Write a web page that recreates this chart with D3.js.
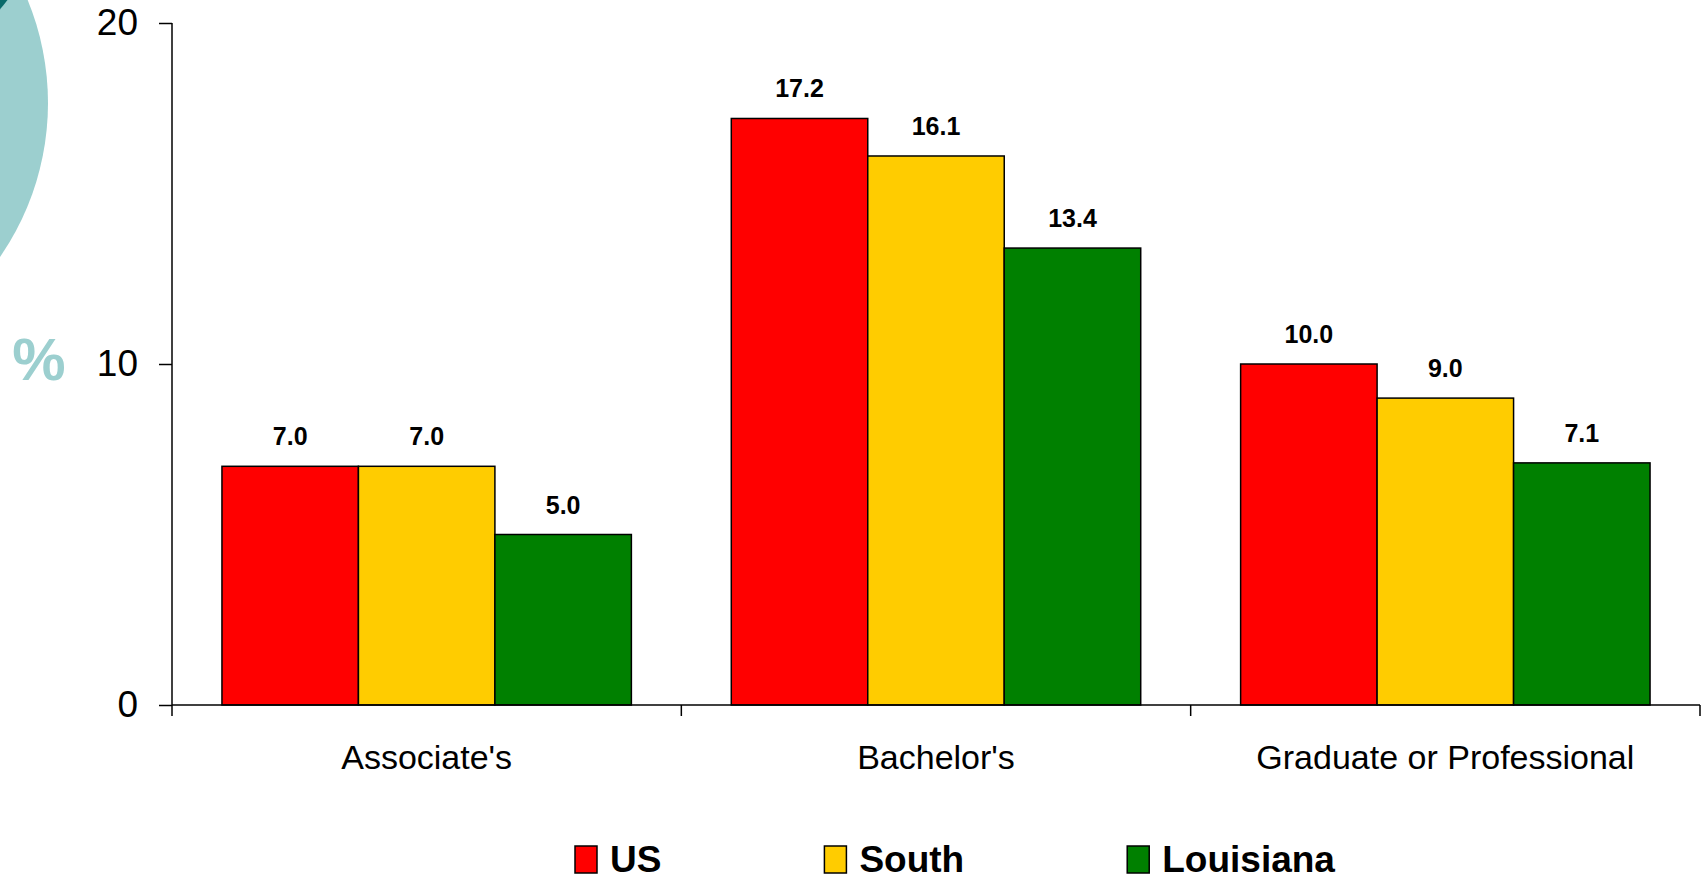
<!DOCTYPE html>
<html>
<head>
<meta charset="utf-8">
<script src="https://cdn.jsdelivr.net/npm/d3@7"></script>
<style>
  html, body { margin: 0; padding: 0; background: #ffffff; overflow: hidden; }
  svg { display: block; font-family: "Liberation Sans", Arial, sans-serif; }
</style>
</head>
<body>
<div id="chart-container"></div>
<script>
const categories = ["Associate's", "Bachelor's", "Graduate or Professional"];
const series = ["US", "South", "Louisiana"];
const usValues = [7.0, 17.2, 10.0];
const southValues = [7.0, 16.1, 9.0];
const louisianaValues = [5.0, 13.4, 7.1];
const yTicks = [0, 10, 20];

const seriesValues = [usValues, southValues, louisianaValues];
const seriesColors = ["#FF0000", "#FFCC00", "#008000"];

const width = 1707;
const height = 881;
const plot = { left: 172, right: 1700, top: 23, bottom: 705 };

function drawChart() {
  d3.select("#chart-container").select("svg").remove();

  const svg = d3
    .select("#chart-container")
    .append("svg")
    .attr("width", width)
    .attr("height", height);

  // slide decoration on the left
  svg.append("circle")
    .attr("cx", -223)
    .attr("cy", 103)
    .attr("r", 271)
    .style("fill", "#9CCFCF");
  svg.append("circle")
    .attr("cx", -100)
    .attr("cy", -80)
    .attr("r", 134)
    .style("fill", "#0A6A6A");

  const x = d3.scaleBand()
    .domain(categories)
    .range([plot.left, plot.right])
    .padding(0);

  const xInner = d3.scaleBand()
    .domain(series)
    .range([0, x.bandwidth()])
    .paddingInner(0)
    .paddingOuter(0.366);

  const y = d3.scaleLinear()
    .domain([0, 20])
    .range([plot.bottom, plot.top]);

  // bars
  const rows = [];
  categories.forEach((c, i) => {
    series.forEach((s, j) => {
      rows.push({ category: c, series: s, value: seriesValues[j][i], color: seriesColors[j] });
    });
  });

  const group = svg.append("g");
  group.selectAll("rect")
    .data(rows)
    .enter()
    .append("rect")
    .attr("x", (d) => x(d.category) + xInner(d.series))
    .attr("y", (d) => y(d.value))
    .attr("width", xInner.bandwidth())
    .attr("height", (d) => y(0) - y(d.value))
    .style("fill", (d) => d.color)
    .style("stroke", "#000000")
    .style("stroke-width", 1.5);

  // value labels
  group.selectAll("text.value")
    .data(rows)
    .enter()
    .append("text")
    .attr("class", "value")
    .attr("x", (d) => x(d.category) + xInner(d.series) + xInner.bandwidth() / 2)
    .attr("y", (d) => y(d.value) - 21)
    .attr("text-anchor", "middle")
    .style("font-size", "25px")
    .style("font-weight", "bold")
    .style("fill", "#000000")
    .text((d) => d.value.toFixed(1));

  // y axis
  const yAxis = svg.append("g")
    .attr("transform", `translate(${plot.left},0)`)
    .call(d3.axisLeft(y).tickValues(yTicks).tickSize(13).tickPadding(21).tickFormat(d3.format("d")));
  yAxis.select(".domain").attr("d", `M0,${plot.top}V${plot.bottom}`);
  yAxis.selectAll("path, line").style("stroke", "#000000").style("stroke-width", 1.5);
  yAxis.selectAll("text")
    .style("font-size", "37px")
    .style("font-family", "'Liberation Sans', Arial, sans-serif")
    .style("fill", "#000000");

  // x axis with ticks at category boundaries
  const xAxis = svg.append("g")
    .attr("transform", `translate(0,${plot.bottom})`)
    .call(d3.axisBottom(x).tickSize(0).tickPadding(40));
  xAxis.select(".domain").attr("d", `M${plot.left},0H${plot.right}`);
  xAxis.selectAll("path").style("stroke", "#000000").style("stroke-width", 1.5);
  xAxis.selectAll("text")
    .style("font-size", "34px")
    .style("font-family", "'Liberation Sans', Arial, sans-serif")
    .style("fill", "#000000");

  const boundaries = categories.map((c) => x(c)).concat([x(categories[categories.length - 1]) + x.bandwidth()]);
  xAxis.selectAll("line.sep")
    .data(boundaries)
    .enter()
    .append("line")
    .attr("class", "sep")
    .attr("x1", (d) => d)
    .attr("x2", (d) => d)
    .attr("y1", 0)
    .attr("y2", 11)
    .style("stroke", "#000000")
    .style("stroke-width", 1.5);

  // "%" axis title
  svg.append("text")
    .attr("x", 39)
    .attr("y", 380)
    .attr("text-anchor", "middle")
    .style("font-size", "60px")
    .style("font-weight", "bold")
    .style("fill", "#9CCFCF")
    .text("%");

  // legend
  const legend = svg.append("g");
  let lx = 575;
  series.forEach((s, j) => {
    legend.append("rect")
      .attr("x", lx)
      .attr("y", 846)
      .attr("width", 22)
      .attr("height", 27)
      .style("fill", seriesColors[j])
      .style("stroke", "#000000")
      .style("stroke-width", 1.5);
    const t = legend.append("text")
      .attr("x", lx + 35)
      .attr("y", 872)
      .style("font-size", "37px")
      .style("font-weight", "bold")
      .style("fill", "#000000")
      .text(s);
    lx += 35 + t.node().getComputedTextLength() + 163;
  });
}

drawChart();
</script>
</body>
</html>
